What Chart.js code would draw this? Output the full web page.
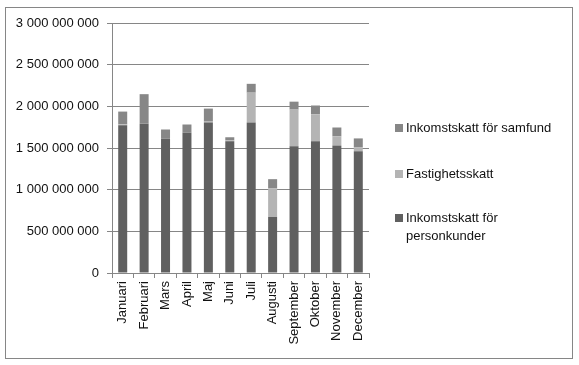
<!DOCTYPE html>
<html>
<head>
<meta charset="utf-8">
<script src="https://cdn.jsdelivr.net/npm/chart.js@4"></script>
<style>
  html, body { margin: 0; padding: 0; background: #fff; }
  #wrap { position: relative; width: 579px; height: 365px; }
  #frame { position: absolute; left: 5px; top: 7px; width: 566px; height: 350px; border: 1px solid #868686; pointer-events: none; }
  #legend { position: absolute; left: 395px; top: 0; font-family: "Liberation Sans", Arial, sans-serif; font-size: 13px; color: #111; }
  .item { position: absolute; left: 0; white-space: nowrap; line-height: 18px; }
  .box { position: absolute; left: 0; width: 8px; height: 8px; }
  .txt { position: absolute; left: 11px; }
</style>
</head>
<body>
<div id="wrap">
  <canvas id="c" width="579" height="365"></canvas>
  <div id="frame"></div>
  <div id="legend"></div>
</div>
<script>
const months = ["Januari","Februari","Mars","April","Maj","Juni","Juli","Augusti","September","Oktober","November","December"];
const personkunder = [1772e6, 1792e6, 1615e6, 1687e6, 1805e6, 1580e6, 1806e6, 672e6, 1520e6, 1580e6, 1531e6, 1462e6];
const fastighetsskatt = [12e6, 0, 0, 0, 12e6, 12e6, 358e6, 343e6, 441e6, 324e6, 109e6, 48e6];
const samfund = [153e6, 354e6, 107e6, 95e6, 156e6, 37e6, 106e6, 111e6, 95e6, 106e6, 106e6, 105e6];
const yTicks = [0, 500e6, 1000e6, 1500e6, 2000e6, 2500e6, 3000e6];
const seriesNames = ["Inkomstskatt för personkunder", "Fastighetsskatt", "Inkomstskatt för samfund"];
const colors = ["#606060", "#b4b4b4", "#878787"];

function fmt(v) { return String(v).replace(/\B(?=(\d{3})+(?!\d))/g, " "); }

const chart = new Chart(document.getElementById("c"), {
  type: "bar",
  data: {
    labels: months,
    datasets: [
      { label: seriesNames[0], data: personkunder, backgroundColor: colors[0] },
      { label: seriesNames[1], data: fastighetsskatt, backgroundColor: colors[1] },
      { label: seriesNames[2], data: samfund, backgroundColor: colors[2] }
    ]
  },
  options: {
    responsive: false,
    animation: false,
    layout: { padding: { left: 0, right: 210, top: 23, bottom: 0 } },
    datasets: { bar: { categoryPercentage: 1, barPercentage: 0.42 } },
    plugins: { legend: { display: false }, tooltip: { enabled: false } },
    scales: {
      x: {
        stacked: true,
        grid: { offset: true, drawOnChartArea: false, color: "#868686", tickLength: 5 },
        border: { color: "#868686" },
        ticks: { maxRotation: 90, minRotation: 90, autoSkip: false, color: "#111", padding: 3,
                 font: { family: "Liberation Sans", size: 13 } },
        afterFit: s => { s.height = 92; }
      },
      y: {
        stacked: true,
        min: 0, max: 3000e6,
        afterBuildTicks: s => { s.ticks = yTicks.map(v => ({ value: v })); },
        grid: { color: "#868686", tickLength: 5 },
        border: { color: "#868686" },
        ticks: { color: "#111", padding: 8, font: { family: "Liberation Sans", size: 13 },
                 callback: v => fmt(v) },
        afterFit: s => { s.width = 112; }
      }
    }
  }
});

// Legend (Excel order: reversed)
const legend = document.getElementById("legend");
const legendItems = [
  { color: colors[2], top: 119, lines: [seriesNames[2]] },
  { color: colors[1], top: 165, lines: [seriesNames[1]] },
  { color: colors[0], top: 209, lines: ["Inkomstskatt för", "personkunder"] }
];
legendItems.forEach(it => {
  const d = document.createElement("div");
  d.className = "item";
  d.style.top = it.top + "px";
  const b = document.createElement("div");
  b.className = "box";
  b.style.background = it.color;
  b.style.top = "5px";
  const t = document.createElement("div");
  t.className = "txt";
  t.innerHTML = it.lines.join("<br>");
  d.appendChild(b); d.appendChild(t);
  legend.appendChild(d);
});
</script>
</body>
</html>
